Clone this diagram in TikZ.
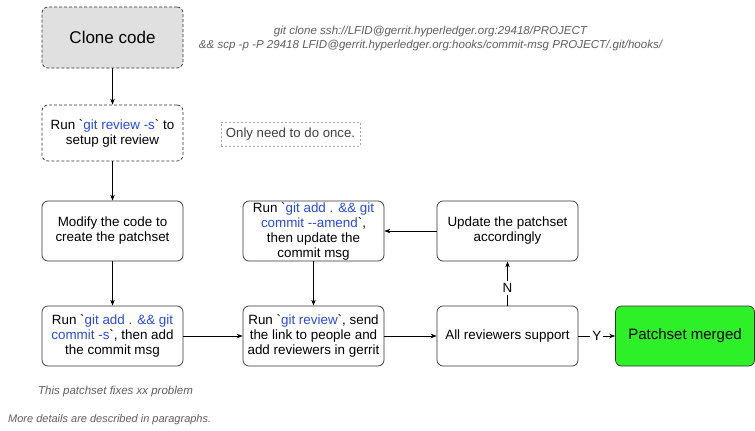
\documentclass[tikz,border=0pt]{standalone}
\usepackage{fontspec}
\setmainfont{Liberation Sans}[Ligatures=TeXOff]
\usetikzlibrary{arrows.meta}
\definecolor{gitblue}{RGB}{40,75,225}
\definecolor{boxgray}{RGB}{224,224,224}
\definecolor{mergegreen}{RGB}{45,240,40}
\definecolor{notegray}{RGB}{95,95,95}
\newcommand{\gc}[1]{\textcolor{gitblue}{#1}}
\begin{document}
\begin{tikzpicture}[x=1pt,y=-1pt,
  flowbox/.style={draw=black!80,line width=0.7pt,rounded corners=6pt,minimum width=141pt,minimum height=60pt,align=center,font=\fontsize{13.4}{15}\selectfont,inner sep=0pt},
  dashbox/.style={flowbox,dash pattern=on 3pt off 2pt},
  conn/.style={line width=0.6pt,-{Stealth[length=6pt,width=4.5pt]}},
  note/.style={text=notegray,align=center,inner sep=0pt}]
\useasboundingbox (0,0) rectangle (755,431);
\node[dashbox,fill=boxgray,minimum height=61pt,font=\fontsize{17}{20}\selectfont] (clone) at (112.5,37.5) {Clone code};
\node[dashbox,minimum height=56pt] (setup) at (112.5,133) {Run `\gc{git review -s}` to\\setup git review};
\node[draw=gray!70,dash pattern=on 2pt off 2pt,line width=0.5pt,minimum width=139pt,minimum height=24pt,font=\fontsize{13.2}{15}\selectfont,text=black!75,inner sep=0pt] (once) at (290.5,134) {Only need to do once.};
\node[note,font=\fontsize{11.55}{14}\selectfont\itshape] (clonetxt) at (430.5,39) {git clone ssh://LFID@gerrit.hyperledger.org:29418/PROJECT\\\&\& scp -p -P 29418 LFID@gerrit.hyperledger.org:hooks/commit-msg PROJECT/.git/hooks/};
\node[flowbox] (modify) at (112.5,231) {Modify the code to\\create the patchset};
\node[flowbox] (commit) at (112.5,336) {Run `\gc{git add . \&\& git}\\\gc{commit -s}`, then add\\the commit msg};
\node[flowbox] (amend) at (313.5,231) {Run `\gc{git add . \&\& git}\\\gc{commit --amend}`,\\then update the\\commit msg};
\node[flowbox] (review) at (313.5,336) {Run `\gc{git review}`, send\\the link to people and\\add reviewers in gerrit};
\node[flowbox] (update) at (507.5,231) {Update the patchset\\accordingly};
\node[flowbox] (all) at (507.5,336) {All reviewers support};
\node[flowbox,fill=mergegreen,minimum width=139pt,font=\fontsize{15}{18}\selectfont] (merged) at (685,336) {Patchset merged};
\node[note,anchor=west,font=\fontsize{11.5}{14}\selectfont\itshape] (fix) at (38,392) {This patchset fixes xx problem};
\node[note,anchor=west,font=\fontsize{11}{14}\selectfont\itshape] (more) at (8,420) {More details are described in paragraphs.};
\draw[conn] (clone) -- (setup);
\draw[conn] (setup) -- (modify);
\draw[conn] (modify) -- (commit);
\draw[conn] (commit) -- (review);
\draw[conn] (amend) -- (review);
\draw[conn] (review) -- (all);
\draw[conn] (update) -- (amend);
\draw[conn] (all) -- node[fill=white,font=\fontsize{13.4}{15}\selectfont,inner sep=2pt] {Y} (merged);
\draw[conn] (all) -- node[fill=white,font=\fontsize{13.4}{15}\selectfont,inner sep=2pt,pos=0.4] {N} (update);
\end{tikzpicture}
\end{document}
